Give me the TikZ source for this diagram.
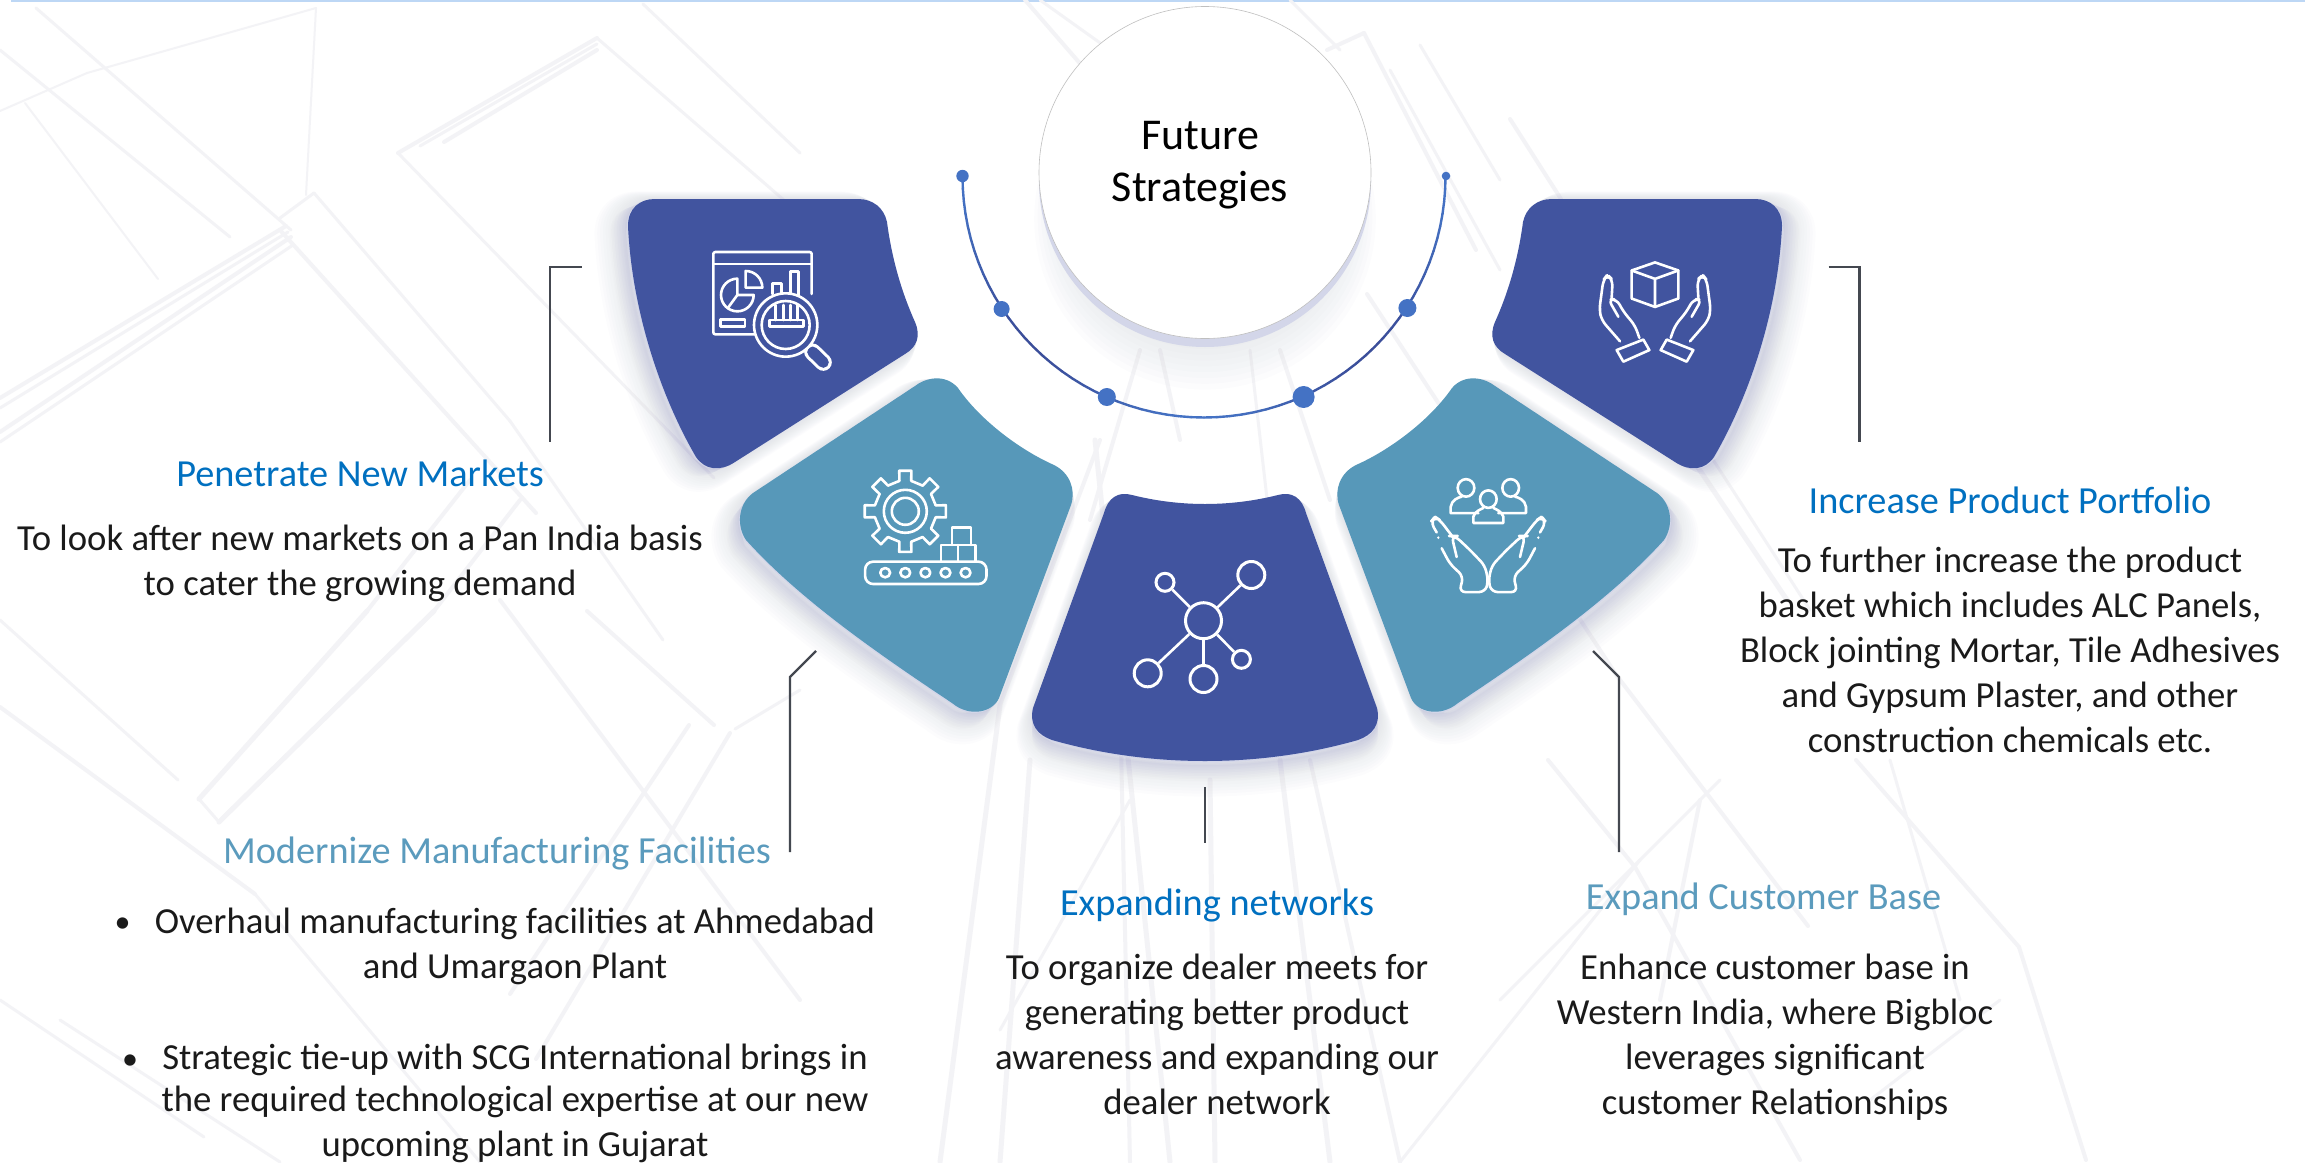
\documentclass[tikz,border=0pt]{standalone}
\usepackage{fontspec}
\usetikzlibrary{calc}
\setmainfont{Carlito}
\definecolor{dkblue}{HTML}{41549F}
\definecolor{teal2}{HTML}{5798B9}
\definecolor{titleblue}{HTML}{0070C0}
\definecolor{titleteal}{HTML}{5B9BBD}
\definecolor{arcbright}{HTML}{4472C4}
\definecolor{arcdark}{HTML}{3B4E9A}
\definecolor{lav}{HTML}{D3D6E9}
\definecolor{shadowc}{HTML}{4A4F9A}
\definecolor{bgline}{HTML}{F3F3F6}
\definecolor{leadc}{HTML}{444850}
\definecolor{bodyc}{HTML}{1A1A1A}
\definecolor{topline}{HTML}{BDD7F5}
\def\shpA{(628,226) .. controls (628,208) and (640,199) .. (655,199) -- (858,199) .. controls (873,199) and (884,208) .. (887,222) .. controls (892,260) and (902,293) .. (915,322) .. controls (921,336) and (917,347) .. (905,354) -- (735,462) .. controls (720,472) and (705,470) .. (696,457) .. controls (660,395) and (632,310) .. (628,226) -- cycle}
\def\shpB{(753,493) -- (915,386) .. controls (925,378) and (945,373) .. (958,388) .. controls (980,420) and (1020,450) .. (1054,465) .. controls (1070,473) and (1076,490) .. (1071,505) -- (999,698) .. controls (993,712) and (970,718) .. (952,703) .. controls (880,655) and (800,600) .. (746,540) .. controls (737,527) and (737,505) .. (753,493) -- cycle}
\def\shpC{(1104,513) .. controls (1108,498) and (1118,491) .. (1132,495) .. controls (1180,507) and (1230,507) .. (1278,495) .. controls (1292,491) and (1302,498) .. (1306,513) -- (1377,708) .. controls (1381,725) and (1372,735) .. (1358,740) .. controls (1260,768) and (1150,768) .. (1052,740) .. controls (1038,735) and (1029,725) .. (1033,708) -- cycle}
% shape, dx, dy of the shadow, fill colour
\newcommand\softshape[4]{%
  \foreach \n in {1,...,12}{%
    \path[fill=shadowc,draw=shadowc,line join=round,line width=\n*2.6pt,opacity=.012,shift={({#2*\n/12},{#3*\n/12})}] #1;}
  \path[fill=lav,shift={(#2*.07,#3*.07)}] #1;
  \path[fill=#4] #1;}
\tikzset{
  x=1pt,y=-1pt,
  ttl/.style={anchor=base,font=\fontsize{38.3}{44}\selectfont},
  bodytxt/.style={anchor=base,align=center,text=bodyc,font=\fontsize{36.7}{45}\selectfont},
  leader/.style={draw=leadc,line width=2.2pt},
  icon/.style={draw=white,line width=2.6pt,line join=round,line cap=round},
  netnode/.style={circle,draw=white,line width=3pt,inner sep=0pt,fill=none},
  dot/.style={fill=arcbright},
}
\begin{document}
\begin{tikzpicture}
\useasboundingbox (0,0) rectangle (2305,1162);
\fill[white!99!bgline] (0,0) rectangle (2305,1162);
\fill[topline] (11,0) rectangle (2305,2);
% faint architectural background
\foreach \a/\b/\c/\d/\w in {
0/398/286/226/4,0/408/288/232/3,0/432/291/237/4,0/442/293/245/3,
280/218/314/193/3,314/193/510/421/3,510/421/663/640/3,280/230/536/513/4,398/153/714/478/3,
398/153/597/38/4,444/142/597/50/4,420/146/597/44/3,597/38/800/214/3,643/4/800/153/3,
0/50/230/237/3,36/8/291/230/3,25/103/158/279/2,0/111/87/73/2,87/73/316/8/2,316/8/306/195/2,
199/799/367/611/5,219/822/434/611/5,199/799/219/822/3,0/707/255/894/4,0/620/178/780/3,
0/1000/204/1137/3,60/1020/280/1162/3,587/611/714/725/4,689/725/510/994/4,730/733/536/1059/4,800/690/735/729/3,
367/611/470/480/4,434/611/520/500/4,
255/894/480/1162/3,500/600/800/1000/4,
1100/440/1000/705/4,1000/705/940/1162/5,1030/760/1000/1162/5,1095/440/1170/1162/5,
1120/700/1130/1162/4,1250/350/1290/700/3,1280/760/1330/1162/5,1310/760/1400/1162/4,1210/780/1215/1162/5,
1140/350/1090/520/4,1160/350/1180/440/4,1280/350/1330/500/4,
1548/760/1635/867/4,1635/867/1800/1160/4,1856/760/2019/947/4,2019/947/2086/1160/4,1890/760/1960/1000/3,
1367/294/1617/676/4,1617/676/1808/926/4,1693/460/1787/600/5,1710/455/1810/610/3,
1510/119/1561/199/4,1327/50/1364/33/4,1364/33/1476/250/4,1390/70/1500/270/3,1420/45/1500/180/3,
1025/0/1090/75/4,1040/0/1110/50/3,1290/0/1340/50/3,
1000/1030/1130/800/3,1500/1000/1720/780/3,1660/1000/1700/800/4,1400/1162/1640/860/3,1870/1100/2000/1000/3
}{\draw[bgline,line width=\w pt,line cap=round] (\a,\b) -- (\c,\d);}

% hub circle
\foreach \n in {1,...,12}{\fill[shadowc,opacity=.012] (1205,{190+2.4*\n}) circle ({130+3.4*\n});}
\fill[lav] (1205,181) circle (166);
\node[circle,fill=white,draw=black!25,line width=.6pt,minimum size=332pt,inner sep=0pt] (hub) at (1205,172.5) {};
\node[anchor=base,align=center,font=\fontsize{44}{52}\selectfont] (hubt) at (1200,201) {Future\\Strategies};

% arc with its dots
\foreach \a in {0,3,...,177}{
  \pgfmathsetmacro\m{100*sin(2*\a)*sin(2*\a)}
  \pgfmathsetmacro\e{\a+3}
  \draw[color={arcdark!\m!arcbright},line width=2.4pt,line cap=round] ($(1204,176)+(\a:241.5)$) -- ($(1204,176)+(\e:241.5)$);
}
\fill[dot] (962.5,176) circle (6.2);
\fill[dot] (1001.6,309) circle (8);
\fill[dot] (1106.8,397) circle (9);
\fill[dot] (1303.6,397) circle (11);
\fill[dot] (1407.4,308) circle (9);
\fill[dot] (1446,176) circle (4.3);

% petals
\softshape{\shpA}{-18}{8}{dkblue}
\begin{scope}[xshift=2410pt,xscale=-1]
  \softshape{\shpA}{-18}{8}{dkblue}
  \softshape{\shpB}{-13}{17}{teal2}
\end{scope}
\softshape{\shpB}{-13}{17}{teal2}
\softshape{\shpC}{0}{20}{dkblue}

% icon A : window, pie, magnifier
\begin{scope}[shift={(600,150)},xscale=1/3,yscale=1/3]
  \draw[icon,rounded corners=2pt] (465,553) -- (340,553) -- (340,306) -- (635,306) -- (635,432);
  \draw[icon] (340,342) -- (635,342);
  \draw[icon] (412,435) -- (412,386) arc[start angle=270,end angle=0,radius=49] -- cycle;
  \draw[icon] (412,435) -- (385,472);
  \draw[icon] (437,413) -- (437,363) arc[start angle=270,end angle=360,radius=50] -- cycle;
  \draw[icon] (362,508) rectangle (435,530);
  \draw[icon] (518,432) -- (518,400) -- (545,400) -- (545,432);
  \draw[icon] (572,432) -- (572,365) -- (595,365) -- (595,440);
  \draw[white,line width=8pt] (618,585) -- (640,607);
  \draw[dkblue,line width=3.5pt] (618,585) -- (640,607);
  \draw[white,line width=17pt,line cap=round] (638,606) -- (670,637);
  \draw[dkblue,line width=11pt,line cap=round] (638,606) -- (670,637);
  \draw[icon,fill=dkblue] (557,525) circle (95);
  \draw[icon] (557,525) circle (72);
  \draw[icon] (508,510) rectangle (610,530);
  \foreach \q in {527,550,572,592}{\draw[icon] (\q,465) -- (\q,510);}
\end{scope}

% icon E : box in two hands
\begin{scope}[shift={(1420,180)},xscale=1/3,yscale=.3507]
  \draw[icon] (705,235) -- (775,258) -- (775,338) -- (705,362) -- (635,338) -- (635,258) -- cycle;
  \draw[icon] (635,258) -- (705,282) -- (775,258) (705,282) -- (705,362);
  \foreach \sh/\sc in {0/1,1410/-1}{
  \begin{scope}[xshift=\sh pt,xscale=\sc]
    \draw[icon,rounded corners=6pt] (600,460) -- (545,400) -- (538,370) -- (550,285) -- (562,270) -- (578,285) -- (575,335);
    \draw[icon,rounded corners=6pt] (595,390) -- (565,340) -- (590,340) -- (610,375) -- (645,415) -- (658,450);
    \draw[icon] (590,485) -- (670,455) -- (688,485) -- (610,518) -- cycle;
  \end{scope}}
\end{scope}

% icon D : people in two hands
\begin{scope}[shift={(1420,180)},xscale=1/3,yscale=.3507]
  \draw[icon] (138,878) circle (25);
  \draw[icon] (272,878) circle (25);
  \draw[icon] (175,950) -- (92,950) -- (92,932) .. controls (95,912) and (115,905) .. (125,903);
  \draw[icon] (235,950) -- (318,950) -- (318,932) .. controls (315,912) and (295,905) .. (285,903);
  \draw[icon] (205,910) circle (25);
  \draw[icon] (160,978) -- (160,960) .. controls (165,945) and (180,940) .. (190,935) (220,935) .. controls (230,940) and (245,945) .. (250,960) -- (250,978) -- (160,978);
  \foreach \sh/\sc in {0/1,410/-1}{
  \begin{scope}[xshift=\sh pt,xscale=\sc]
    \draw[icon,rounded corners=6pt] (65,1050) -- (90,1095) -- (130,1130) -- (118,1175) -- (195,1175) -- (205,1145) -- (195,1100) -- (150,1055) -- (105,1015) -- (95,1015) -- (110,1075);
    \draw[icon,rounded corners=6pt] (50,1005) -- (32,975) -- (45,960) -- (60,970) -- (100,1020);
    \fill[white] (55,1020) circle (4);
  \end{scope}}
\end{scope}

% icon B : gear and conveyor
\begin{scope}[shift={(905.3,511.3)}]
  \foreach \t in {0,45,...,315}{
    \pgfmathsetmacro\ta{\t-11}\pgfmathsetmacro\tb{\t-8.5}\pgfmathsetmacro\tc{\t+8.5}\pgfmathsetmacro\td{\t+11}\pgfmathsetmacro\te{\t+34}
    \draw[icon] (\ta:31) -- (\tb:41) -- (\tc:41) -- (\td:31) -- (\te:31);}
  \draw[icon] (0,0) circle (21.5);
  \draw[icon] (0,0) circle (13.5);
\end{scope}
\begin{scope}[shift={(720,370)},xscale=1/2.24,yscale=1/3]
  \draw[icon,rounded corners=8pt] (325,575) rectangle (597,642);
  \foreach \q in {370,415,460,505,550}{\draw[icon] (\q,608) ellipse (11 and 14);}
  \draw[icon] (495,575) -- (495,525) -- (572,525) -- (572,575) (533,525) -- (533,575);
  \draw[icon] (520,525) -- (520,472) -- (562,472) -- (562,525);
\end{scope}

% icon C : network
\node[netnode,minimum size=36pt] (n0) at (1203.5,620.7) {};
\node[netnode,minimum size=27pt] (n1) at (1251.3,575) {};
\node[netnode,minimum size=18pt] (n2) at (1165,582.3) {};
\node[netnode,minimum size=27pt] (n3) at (1147.7,673.3) {};
\node[netnode,minimum size=27pt] (n4) at (1203.5,679) {};
\node[netnode,minimum size=18pt] (n5) at (1241.4,659.3) {};
\foreach \k in {1,...,5}{\draw[white,line width=2.6pt] (n0) -- (n\k);}

% leaders
\coordinate (la1) at (581.5,267); \coordinate (la2) at (550,267); \coordinate (la3) at (550,442);
\draw[leader] (la1) -- (la2) -- (la3);
\coordinate (le1) at (1828.5,267); \coordinate (le2) at (1859.5,267); \coordinate (le3) at (1859.5,442);
\draw[leader] (le1) -- (le2) -- (le3);
\coordinate (lb1) at (816,651); \coordinate (lb2) at (790,677); \coordinate (lb3) at (790,852);
\draw[leader] (lb1) -- (lb2) -- (lb3);
\coordinate (ld1) at (1593,651); \coordinate (ld2) at (1619,677); \coordinate (ld3) at (1619,852);
\draw[leader] (ld1) -- (ld2) -- (ld3);
\coordinate (lc1) at (1205,787); \coordinate (lc2) at (1205,843);
\draw[leader] (lc1) -- (lc2);

% texts
\node[ttl,text=titleblue] (t1) at (360,486.5) {Penetrate New Markets};
\node[bodytxt] (b1) at (360,595) {To look after new markets on a Pan India basis\\to cater the growing demand};
\node[ttl,text=titleteal] (t2) at (497,863.5) {Modernize Manufacturing Facilities};
\node[bodytxt,font=\fontsize{32}{45}\selectfont] (bu1) at (122.5,932) {•};
\node[bodytxt] (b2a) at (515,978.5) {Overhaul manufacturing facilities at Ahmedabad\\and Umargaon Plant};
\node[bodytxt,font=\fontsize{32}{45}\selectfont] (bu2) at (130,1069) {•};
\node[bodytxt] (b2b) at (515,1156) {Strategic tie-up with SCG International brings in\\[-3.5pt]the required technological expertise at our new\\upcoming plant in Gujarat};
\node[ttl,text=titleblue] (t3) at (1217,915.5) {Expanding networks};
\node[bodytxt] (b3) at (1217,1114) {To organize dealer meets for\\generating better product\\awareness and expanding our\\dealer network};
\node[ttl,text=titleteal] (t4) at (1763.5,909.5) {Expand Customer Base};
\node[bodytxt] (b4) at (1775,1114) {Enhance customer base in\\Western India, where Bigbloc\\leverages significant\\customer Relationships};
\node[ttl,text=titleblue] (t5) at (2010,513) {Increase Product Portfolio};
\node[bodytxt] (b5) at (2010,752) {To further increase the product\\basket which includes ALC Panels,\\Block jointing Mortar, Tile Adhesives\\and Gypsum Plaster, and other\\construction chemicals etc.};
\end{tikzpicture}
\end{document}
